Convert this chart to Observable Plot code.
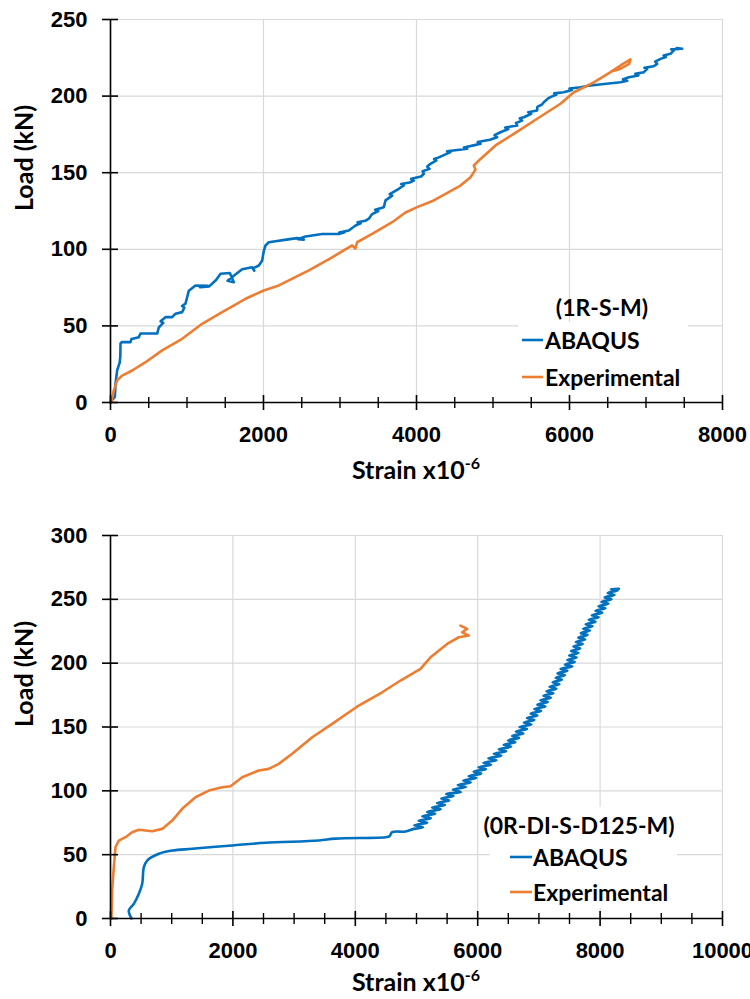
<!DOCTYPE html>
<html><head><meta charset="utf-8">
<script src="https://cdn.jsdelivr.net/npm/d3@7"></script>
<script src="https://cdn.jsdelivr.net/npm/@observablehq/plot@0.6"></script>
<style>
body{margin:0;background:#fff;}
#c{width:750px;}
svg{display:block}
</style></head><body><div id="c"></div>
<script>
// ---------- DATA ----------
const seriesNames = ["ABAQUS", "Experimental"];
const seriesColors = ["#0070C0", "#ED7D31"];
const xTitle = "Strain x10";
const xTitleSup = "-6";
const yTitle = "Load (kN)";

// Panel 1: (1R-S-M)  [strain x10^-6, load kN]
const topTitle = "(1R-S-M)";
const topAbaqus = [[0,0],[13,1.3],[56,3.5],[62,8],[65,12],[87,21],[120,26],[128,30],[131,38.5],[150,39.5],[261,39.4],[275,41.5],[370,42.6],[392,45],[610,45],[632,49],[690,52],[655,53],[719,55.7],[806,55.7],[850,58],[937,59],[965,62],[935,63],[980,64.5],[1002,68.7],[1024,73],[1111,76.4],[1270,76.2],[1170,75.2],[1290,75.8],[1380,80],[1438,84],[1560,84.5],[1612,78.5],[1530,79.5],[1620,83],[1721,87],[1852,88.3],[1880,86],[1860,87.5],[1939,89.4],[1983,92.7],[2004,99],[2026,102.5],[2070,104.6],[2157,105.3],[2300,106.3],[2440,107.3],[2527,106.2],[2450,106.6],[2549,108.4],[2767,110],[2985,110],[3060,111.2],[2990,111],[3115,112.3],[3203,115.5],[3270,117],[3230,117.6],[3330,118.6],[3377,120],[3420,123],[3500,125],[3460,125.8],[3573,127.5],[3595,131.9],[3682,135],[3650,136],[3769,139.5],[3834,141.7],[3800,142.6],[3910,143.6],[3965,144.9],[3930,146],[4060,147.5],[4096,149.3],[4080,151],[4170,152.5],[4140,154],[4183,155.8],[4260,158],[4230,159],[4292,160],[4444,163.4],[4400,164],[4560,165],[4662,165.6],[4620,166.5],[4760,168],[4837,168.9],[4800,170],[4960,171.5],[5054,173.2],[5020,174.5],[5098,176.4],[5200,178.5],[5160,179.5],[5316,180.8],[5300,182.5],[5380,184],[5350,185.5],[5403,186.2],[5500,188.5],[5460,189.5],[5577,190.6],[5580,193],[5640,194.5],[5664,196],[5720,198.5],[5751,199.3],[5830,201],[5800,201.8],[5926,202.5],[6030,204],[6000,205],[6144,205.8],[6250,206.8],[6362,207.4],[6667,209],[6754,210],[6700,211],[6776,212.3],[6900,213.5],[6860,214.5],[6972,215.6],[7015,217.8],[6980,218.5],[7100,219.5],[7146,221],[7120,222.5],[7190,224.3],[7260,225.5],[7230,226.5],[7320,227.6],[7364,229.8],[7330,230.5],[7473,230.9],[7400,231.3]];
const topExperimental = [[0,0],[13,0.5],[43,7.8],[87,14.4],[153,17.6],[283,20.9],[458,26.3],[675,34],[937,41.6],[1198,51.4],[1460,59],[1765,67.7],[2004,73.1],[2200,76.4],[2593,86.2],[2898,94.8],[3159,102.5],[3200,100.5],[3224,104.6],[3420,110],[3682,117.7],[3856,124],[4009,127.5],[4226,131.9],[4575,141.6],[4706,147],[4771,152],[4749,154.7],[4837,159],[5033,167.8],[5272,175.4],[5577,185.2],[5882,195],[6057,202.5],[6318,209],[6536,215.6],[6667,220],[6797,224],[6780,221],[6650,217.5],[6580,216.5],[6640,219]];
const topXTicks = [0,2000,4000,6000,8000];
const topXMinor = [500,1000,1500,2500,3000,3500,4500,5000,5500,6500,7000,7500];
const topYTicks = [0,50,100,150,200,250];

// Panel 2: (0R-DI-S-D125-M)
const bottomTitle = "(0R-DI-S-D125-M)";
const bottomAbaqus = [[343,0],[299,6.3],[381,11.5],[463,19.3],[518,27.2],[545,40.2],[599,45.4],[790,50.7],[1008,53.2],[1335,54.6],[1988,57.2],[2533,59.3],[3404,61.1],[3676,62.6],[4493,63.7],[4560,64.5],[4602,67.6],[4820,68.1],[4956,70.2],[5105,71.5],[4965,73],[5175,75],[5035,76.5],[5235,78.5],[5095,80],[5305,82],[5175,83.5],[5395,85.5],[5255,87],[5465,89],[5335,90.5],[5535,92.5],[5405,94],[5605,96],[5485,97.5],[5725,99],[5595,101],[5805,103],[5675,104.5],[5885,106.5],[5765,108],[5975,110],[5855,111.5],[6055,113.5],[5935,115],[6135,117],[6015,118.5],[6215,120.5],[6095,122],[6305,124],[6175,125.5],[6385,127.5],[6265,129],[6465,131],[6345,132.5],[6545,134.5],[6425,136],[6615,138],[6495,139.5],[6675,141.5],[6565,143],[6745,145],[6625,146.5],[6805,148.5],[6685,150],[6875,152],[6755,153.5],[6925,155.5],[6805,157],[6975,159],[6865,160.5],[7035,162.5],[6925,164],[7105,166],[6975,167.5],[7145,169.5],[7025,171],[7195,173],[7075,174.5],[7235,176.5],[7125,178],[7285,180],[7175,181.5],[7335,183.5],[7225,185],[7375,187],[7275,188.5],[7425,190.5],[7305,192],[7465,194],[7355,195.5],[7545,197.5],[7425,199],[7585,201],[7465,202.5],[7615,204.5],[7495,206],[7645,208],[7525,209.5],[7675,211.5],[7565,213],[7715,215],[7605,216.5],[7755,218.5],[7645,220],[7795,222],[7685,223.5],[7835,225.5],[7725,227],[7875,229],[7765,230.5],[7925,232.5],[7815,234],[7975,236],[7865,237.5],[8035,239.5],[7925,241],[8085,243],[7975,244.5],[8135,246.5],[8025,248],[8185,250],[8075,251.5],[8235,253.5],[8125,255],[8285,257],[8175,258],[8306,258.3]];
const bottomExperimental = [[16,0],[16,1],[27,22],[54,40],[82,56],[136,61],[245,63.7],[354,67.6],[463,69.5],[681,68.4],[845,70.2],[1008,76.7],[1171,85.9],[1389,95],[1607,100.2],[1825,102.8],[1961,103.6],[2152,110.6],[2423,115.9],[2587,117.2],[2750,121.1],[2969,129],[3296,142],[3622,152.5],[4057,166.8],[4439,177.2],[4739,186.4],[5065,195.5],[5229,204.6],[5501,215.1],[5691,220.3],[5855,221.6],[5746,224.2],[5828,226.8],[5719,229.4]];
const bottomXTicks = [0,2000,4000,6000,8000,10000];
const bottomXMinor = [500,1000,1500,2500,3000,3500,4500,5000,5500,6500,7000,7500,8500,9000,9500];
const bottomYTicks = [0,50,100,150,200,250,300];

// ---------- DRAW ----------
const tickFont = "'Liberation Sans', Arial, sans-serif";
const titleFont = "Lato, 'Open Sans', sans-serif";

function panel(o) {
  const rows = [];
  o.series.forEach((arr, k) => arr.forEach(([s, l]) => rows.push({strain: s, load: l, series: seriesNames[k]})));
  const svg = Plot.plot({
    width: 750,
    height: o.height,
    marginLeft: 110,
    marginRight: 28,
    marginTop: o.marginTop,
    marginBottom: o.marginBottom,
    style: {background: "#fff", overflow: "visible", fontFamily: tickFont, fontSize: "22px", fontWeight: "bold"},
    x: {domain: o.xDomain},
    y: {domain: o.yDomain},
    color: {domain: seriesNames, range: seriesColors},
    marks: [
      Plot.gridX(o.xTicks, {stroke: "#d9d9d9", strokeOpacity: 1, strokeWidth: 1.2}),
      Plot.gridY(o.yTicks, {stroke: "#d9d9d9", strokeOpacity: 1, strokeWidth: 1.2}),
      Plot.line(rows.filter(d => d.series === seriesNames[0]), {x: "strain", y: "load", stroke: "series", strokeWidth: 2.6, curve: o.blueCurve}),
      Plot.line(rows.filter(d => d.series === seriesNames[1]), {x: "strain", y: "load", stroke: "series", strokeWidth: 2.6, curve: "linear"}),
      Plot.ruleX([0], {stroke: "#000", strokeWidth: 1.6}),
      Plot.ruleY([0], {stroke: "#000", strokeWidth: 1.6}),
      Plot.ruleX(o.xTicks, {y1: 0, y2: 0, insetTop: -7, insetBottom: -8, stroke: "#000", strokeWidth: 1.6}),
      Plot.ruleX(o.xMinor, {y1: 0, y2: 0, insetTop: -5, insetBottom: -6, stroke: "#000", strokeWidth: 1.4}),
      Plot.ruleY(o.yTicks, {x1: 0, x2: 0, insetLeft: -8, insetRight: -8, stroke: "#000", strokeWidth: 1.6}),
      Plot.axisX({ticks: o.xTicks, tickSize: 0, tickPadding: 24, tickFormat: d => `${d}`, fontSize: 22, fontWeight: "bold", fontFamily: tickFont, label: null}),
      Plot.axisY({ticks: o.yTicks, tickSize: 0, tickPadding: 23, tickFormat: d => `${d}`, fontSize: 22, fontWeight: "bold", fontFamily: tickFont, label: null}),
      Plot.text([yTitle], {frameAnchor: "left", dx: -86, rotate: -90, text: d => d, fontSize: 25, fontWeight: "bold", fontFamily: titleFont, fill: "#000"})
    ]
  });
  const s = d3.select(svg);
  // x-axis title with superscript
  const t = s.append("text").attr("x", 416).attr("y", o.xTitleY)
    .attr("text-anchor", "middle").attr("font-family", titleFont).attr("font-weight", "bold")
    .attr("font-size", 25).attr("fill", "#000");
  t.append("tspan").text(xTitle);
  t.append("tspan").attr("dy", -10).attr("font-size", 16).text(xTitleSup);
  // legend
  const L = o.legend;
  s.append("rect").attr("x", L.box[0]).attr("y", L.box[1]).attr("width", L.box[2]).attr("height", L.box[3]).attr("fill", "#fff");
  s.append("text").attr("x", L.titleX).attr("y", L.titleY).attr("text-anchor", "middle").attr("dominant-baseline", "central")
    .attr("font-family", titleFont).attr("font-weight", "bold").attr("font-size", 23).attr("fill", "#000").text(o.title);
  seriesNames.forEach((n, k) => {
    const y = L.rowY[k];
    s.append("line").attr("x1", L.lineX[0]).attr("x2", L.lineX[1]).attr("y1", y).attr("y2", y)
      .attr("stroke", seriesColors[k]).attr("stroke-width", 2.6);
    s.append("text").attr("x", L.textX).attr("y", y).attr("text-anchor", "start").attr("dominant-baseline", "central")
      .attr("font-family", titleFont).attr("font-weight", "bold").attr("font-size", 23).attr("fill", "#000").text(n);
  });
  return svg;
}

const c = document.getElementById("c");
c.appendChild(panel({
  series: [topAbaqus, topExperimental], title: topTitle, blueCurve: "linear",
  height: 490, marginTop: 19, marginBottom: 88,
  xDomain: [0, 8000], yDomain: [0, 250],
  xTicks: topXTicks, xMinor: topXMinor, yTicks: topYTicks,
  xTitleY: 479,
  legend: {box: [518, 322, 170, 73], titleX: 602, titleY: 307, rowY: [340, 377], lineX: [522, 543], textX: 545}
}));
c.appendChild(panel({
  series: [bottomAbaqus, bottomExperimental], title: bottomTitle, blueCurve: "catmull-rom",
  height: 509, marginTop: 45, marginBottom: 81,
  xDomain: [0, 10000], yDomain: [0, 300],
  xTicks: bottomXTicks, xMinor: bottomXMinor, yTicks: bottomYTicks,
  xTitleY: 501,
  legend: {box: [490, 317, 187, 101], titleX: 579, titleY: 335, rowY: [367, 402], lineX: [510, 532], textX: 533}
}));
</script>
</body></html>
